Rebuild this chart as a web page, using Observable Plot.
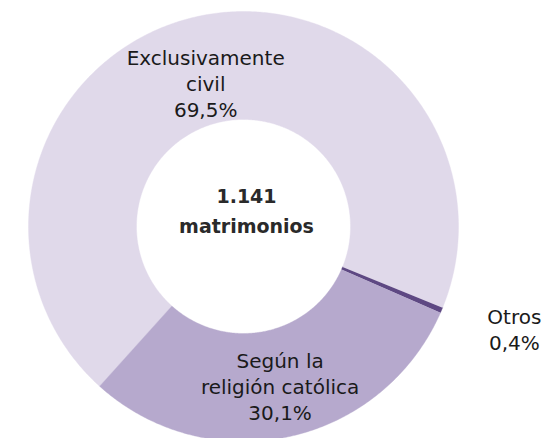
<!DOCTYPE html>
<html>
<head>
<meta charset="utf-8">
<script src="https://cdn.jsdelivr.net/npm/d3@7"></script>
<script src="https://cdn.jsdelivr.net/npm/@observablehq/plot@0.6"></script>
<style>
  html, body { margin: 0; padding: 0; background: #fff; }
  #chart svg { display: block; }
</style>
</head>
<body>
<div id="chart"></div>
<script>
// ---- data ----
const categorias = ["Exclusivamente civil", "Otros", "Según la religión católica"];
const porcentajes = [69.5, 0.4, 30.1];
const etiquetas = ["Exclusivamente\ncivil\n69,5%", "Otros\n0,4%", "Según la\nreligión católica\n30,1%"];
const totalTexto = ["1.141", "matrimonios"];

// ---- styling / layout (not data) ----
const colores = ["#e0d9ea", "#5e4883", "#b6a9cd"];
const W = 542, H = 438;
const CX = 243, CY = 226;     // pixel center of donut
const R = 215, R0 = 107;      // outer / inner radius in px
const deg = Math.PI / 180;
const startAngle = -138 * deg; // clockwise from top

// build slices from the data (clockwise from top)
const suma = d3.sum(porcentajes);
let acc = startAngle;
const slices = categorias.map((name, i) => {
  const a0 = acc, a1 = acc + porcentajes[i] / suma * 2 * Math.PI;
  acc = a1;
  return {name, a0, a1, i};
});

// polygon points for each ring segment (data units = px offsets from center, y up)
const pts = [];
for (const s of slices) {
  const n = Math.max(2, Math.ceil((s.a1 - s.a0) / (0.5 * deg)));
  for (let k = 0; k <= n; k++) {
    const t = s.a0 + (s.a1 - s.a0) * k / n;
    pts.push({name: s.name, x: R * Math.sin(t), y: R * Math.cos(t)});
  }
  for (let k = n; k >= 0; k--) {
    const t = s.a0 + (s.a1 - s.a0) * k / n;
    pts.push({name: s.name, x: R0 * Math.sin(t), y: R0 * Math.cos(t)});
  }
}

// label placement: radius along slice mid-angle plus small pixel nudge
const labelPlace = [
  {r: 147, dx: -5, dy: 1},
  {r: 293, dx: 1, dy: 12},
  {r: 164, dx: 2, dy: 1}
];
const labels = slices.map((s, i) => {
  const m = (s.a0 + s.a1) / 2, p = labelPlace[i];
  return {
    text: etiquetas[i],
    x: p.r * Math.sin(m) + p.dx,
    y: p.r * Math.cos(m) + p.dy
  };
});

const chart = Plot.plot({
  width: W,
  height: H,
  margin: 0,
  x: {domain: [-CX, W - CX], axis: null},
  y: {domain: [CY - H, CY], axis: null},
  color: {domain: categorias, range: colores},
  style: {fontFamily: "DejaVu Sans", background: "#fff"},
  marks: [
    Plot.line(pts, {x: "x", y: "y", z: "name", fill: "name", stroke: "name", strokeWidth: 0.4}),
    Plot.text(labels, {x: "x", y: "y", text: "text", fontSize: 20, lineHeight: 1.3, fill: "#1a1a1a"}),
    Plot.text([totalTexto.join("\n")], {x: () => 3, y: () => 18, text: d => d, fontSize: 19, fontWeight: "bold", lineHeight: 1.55, fill: "#2a2a2a"})
  ]
});
document.getElementById("chart").appendChild(chart);
</script>
</body>
</html>
